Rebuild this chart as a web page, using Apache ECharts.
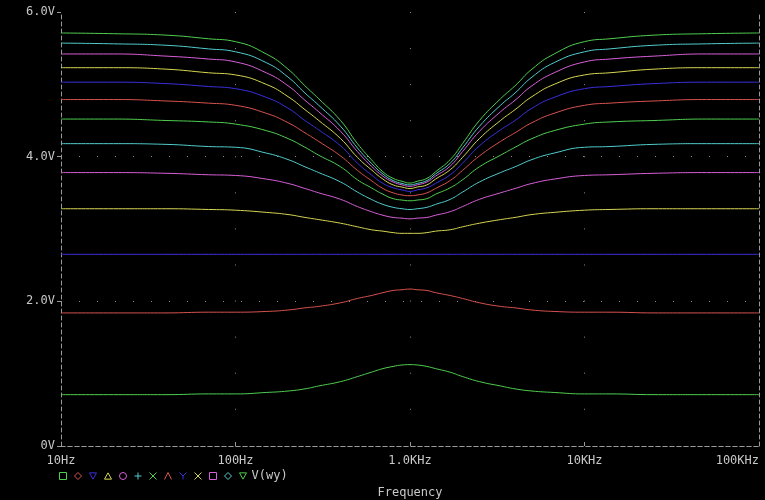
<!DOCTYPE html>
<html>
<head>
<meta charset="utf-8">
<script src="https://cdn.jsdelivr.net/npm/echarts@6/dist/echarts.min.js"></script>
<style>
  html, body { margin: 0; padding: 0; background: #000; }
  #main { width: 765px; height: 500px; }
</style>
</head>
<body>
<div id="main"></div>
<script>
// frequency points (Hz) shared by every trace
const freqs = [10, 20, 40, 70, 100, 150, 200, 250, 300, 400, 500, 600, 700, 800, 900, 1000,
  1100, 1250, 1400, 1700, 2000, 2500, 3300, 4000, 5000, 6700, 10000, 14000, 25000, 50000, 100000];

// V(wy) for each step of the sweep, bottom trace first
const wy1 = [0.71, 0.71, 0.71, 0.72, 0.72, 0.74, 0.76, 0.79, 0.83, 0.89, 0.96, 1.02, 1.07, 1.10, 1.12, 1.125,
  1.12, 1.10, 1.07, 1.02, 0.96, 0.89, 0.83, 0.79, 0.76, 0.74, 0.72, 0.72, 0.71, 0.71, 0.71];
const wy2 = [1.84, 1.84, 1.84, 1.85, 1.85, 1.86, 1.88, 1.91, 1.93, 1.98, 2.04, 2.08, 2.12, 2.15, 2.16, 2.17,
  2.16, 2.15, 2.12, 2.08, 2.04, 1.98, 1.93, 1.91, 1.88, 1.86, 1.85, 1.85, 1.84, 1.84, 1.84];
const wy3 = [2.65, 2.65, 2.65, 2.65, 2.65, 2.65, 2.65, 2.65, 2.65, 2.65, 2.65, 2.65, 2.65, 2.65, 2.65, 2.65,
  2.65, 2.65, 2.65, 2.65, 2.65, 2.65, 2.65, 2.65, 2.65, 2.65, 2.65, 2.65, 2.65, 2.65, 2.65];
const wy4 = [3.28, 3.28, 3.28, 3.27, 3.26, 3.23, 3.20, 3.16, 3.13, 3.08, 3.03, 2.99, 2.97, 2.95, 2.94, 2.94,
  2.94, 2.95, 2.97, 2.99, 3.03, 3.08, 3.13, 3.16, 3.20, 3.23, 3.26, 3.27, 3.28, 3.28, 3.28];
const wy5 = [3.78, 3.78, 3.77, 3.75, 3.74, 3.69, 3.63, 3.56, 3.50, 3.41, 3.31, 3.24, 3.19, 3.16, 3.15, 3.14,
  3.15, 3.16, 3.19, 3.24, 3.31, 3.41, 3.50, 3.56, 3.63, 3.69, 3.74, 3.75, 3.77, 3.78, 3.78];
const wy6 = [4.18, 4.18, 4.17, 4.14, 4.13, 4.05, 3.96, 3.86, 3.78, 3.65, 3.51, 3.41, 3.34, 3.30, 3.28, 3.27,
  3.28, 3.30, 3.34, 3.41, 3.51, 3.65, 3.78, 3.86, 3.96, 4.05, 4.13, 4.14, 4.17, 4.18, 4.18];
const wy7 = [4.52, 4.52, 4.50, 4.48, 4.45, 4.36, 4.25, 4.13, 4.02, 3.86, 3.68, 3.57, 3.48, 3.42, 3.40, 3.39,
  3.40, 3.42, 3.48, 3.57, 3.68, 3.86, 4.02, 4.13, 4.25, 4.36, 4.45, 4.48, 4.50, 4.52, 4.52];
const wy8 = [4.79, 4.79, 4.77, 4.74, 4.71, 4.60, 4.47, 4.33, 4.21, 4.01, 3.81, 3.67, 3.56, 3.50, 3.47, 3.46,
  3.47, 3.50, 3.56, 3.67, 3.81, 4.01, 4.21, 4.33, 4.47, 4.60, 4.71, 4.74, 4.77, 4.79, 4.79];
const wy9 = [5.03, 5.03, 5.01, 4.97, 4.94, 4.82, 4.67, 4.50, 4.37, 4.15, 3.91, 3.75, 3.63, 3.57, 3.54, 3.52,
  3.54, 3.57, 3.63, 3.75, 3.91, 4.15, 4.37, 4.50, 4.67, 4.82, 4.94, 4.97, 5.01, 5.03, 5.03];
const wy10 = [5.23, 5.23, 5.21, 5.16, 5.13, 5.00, 4.83, 4.65, 4.50, 4.25, 3.99, 3.82, 3.69, 3.61, 3.58, 3.56,
  3.58, 3.61, 3.69, 3.82, 3.99, 4.25, 4.50, 4.65, 4.83, 5.00, 5.13, 5.16, 5.21, 5.23, 5.23];
const wy11 = [5.42, 5.42, 5.39, 5.35, 5.31, 5.16, 4.98, 4.78, 4.62, 4.35, 4.07, 3.87, 3.73, 3.65, 3.61, 3.59,
  3.61, 3.65, 3.73, 3.87, 4.07, 4.35, 4.62, 4.78, 4.98, 5.16, 5.31, 5.35, 5.39, 5.42, 5.42];
const wy12 = [5.57, 5.56, 5.54, 5.49, 5.45, 5.30, 5.10, 4.88, 4.71, 4.42, 4.12, 3.91, 3.76, 3.67, 3.63, 3.61,
  3.63, 3.67, 3.76, 3.91, 4.12, 4.42, 4.71, 4.88, 5.10, 5.30, 5.45, 5.49, 5.54, 5.56, 5.57];
const wy13 = [5.71, 5.70, 5.68, 5.63, 5.59, 5.42, 5.21, 4.98, 4.80, 4.50, 4.18, 3.96, 3.79, 3.70, 3.66, 3.635,
  3.66, 3.70, 3.79, 3.96, 4.18, 4.50, 4.80, 4.98, 5.21, 5.42, 5.59, 5.63, 5.68, 5.70, 5.71];

// axis tick labels
const freqTicks = [10, 100, 1000, 10000, 100000];
const freqLabels = ['10Hz', '100Hz', '1.0KHz', '10KHz', '100KHz'];
const voltTicks = [0, 2, 4, 6];
const voltLabels = ['0V', '2.0V', '4.0V', '6.0V'];

const traces = [wy1, wy2, wy3, wy4, wy5, wy6, wy7, wy8, wy9, wy10, wy11, wy12, wy13];

// pspice trace colours cycle
const GREEN = '#4fcf4f', RED = '#d8524f', BLUE = '#3b2fdc', YELLOW = '#d6d654',
  MAGENTA = '#d95fd9', CYAN = '#52cccc';
const colors = [GREEN, RED, BLUE, YELLOW, MAGENTA, CYAN, GREEN, RED, BLUE, YELLOW, MAGENTA, CYAN, GREEN];

// legend markers (square, diamond, down tri, up tri, circle, plus, x, lambda, y, X, square, diamond, down tri)
const icons = [
  'path://M0,0H10V10H0Z',
  'path://M5,0L10,5L5,10L0,5Z',
  'path://M0,1H10L5,10Z',
  'path://M5,0L10,9H0Z',
  'path://M5,0A5,5,0,1,1,4.99,0Z',
  'path://M5,0V10M0,5H10',
  'path://M0,0L10,10M10,0L0,10',
  'path://M0,10L5,0L10,10',
  'path://M0,0L5,5L10,0M5,5V10',
  'path://M0,0L10,10M10,0L0,10',
  'path://M0,0H10V10H0Z',
  'path://M5,0L10,5L5,10L0,5Z',
  'path://M0,1H10L5,10Z'
];

const FONT = 'DejaVu Sans Mono';
const GREY = '#c8c8c8';
const FRAME = '#9a9a9a';

const names = traces.map((t, i) => 'V(wy)#' + (i + 1));

const chart = echarts.init(document.getElementById('main'));

const series = traces.map((vals, i) => ({
  name: names[i],
  type: 'line',
  xAxisIndex: 0,
  yAxisIndex: 0,
  data: freqs.map((f, k) => [f, vals[k]]),
  showSymbol: false,
  smooth: 0.5,
  lineStyle: { color: colors[i], width: 1 },
  itemStyle: { color: colors[i] },
  emphasis: { disabled: true }
}));

const option = {
  backgroundColor: '#000',
  animation: false,
  grid: { left: 61, right: 6, top: 12, bottom: 54, outerBoundsMode: 'none', containLabel: false },
  legend: {
    left: 59,
    top: 470,
    padding: 0,
    itemWidth: 7,
    itemHeight: 7,
    itemGap: 7,
    selectedMode: false,
    data: names.map((n, i) => ({
      name: n,
      icon: icons[i],
      itemStyle: { color: 'transparent', borderColor: colors[i], borderWidth: 1 }
    })),
    formatter: n => (n === names[names.length - 1] ? 'V(wy)' : ''),
    textStyle: { color: GREY, fontFamily: FONT, fontSize: 12 }
  },
  xAxis: [{
    type: 'log',
    logBase: 10,
    min: 10,
    max: 100000,
    name: 'Frequency',
    nameLocation: 'middle',
    nameGap: 41,
    nameTextStyle: { color: GREY, fontFamily: FONT, fontSize: 12 },
    axisLine: { lineStyle: { color: FRAME, type: [4, 3], width: 1 } },
    axisTick: { inside: true, length: 4, lineStyle: { color: FRAME } },
    axisLabel: {
      color: GREY, fontFamily: FONT, fontSize: 12, margin: 9,
      alignMaxLabel: 'right',
      formatter: v => {
        const k = freqTicks.findIndex(t => Math.abs(t - v) / t < 1e-6);
        return k >= 0 ? freqLabels[k] : '';
      }
    },
    splitLine: {
      show: true, showMinLine: false, showMaxLine: false,
      lineStyle: { color: '#8a8a8a', type: [1, 35.07], width: 1 }
    }
  }, {
    type: 'log',
    logBase: 10,
    min: 10,
    max: 100000,
    position: 'top',
    axisLine: { lineStyle: { color: FRAME, type: [4, 3], width: 1 } },
    axisTick: { show: false },
    axisLabel: { show: false },
    splitLine: { show: false }
  }],
  yAxis: [{
    type: 'value',
    min: 0,
    max: 6,
    interval: 2,
    axisLine: { show: true, lineStyle: { color: FRAME, type: [4, 3], width: 1 } },
    axisTick: { show: true, length: 4, lineStyle: { color: FRAME } },
    axisLabel: {
      color: GREY, fontFamily: FONT, fontSize: 12, margin: 6,
      formatter: v => {
        const k = voltTicks.indexOf(Math.round(v));
        return k >= 0 ? voltLabels[k] : '';
      }
    },
    splitLine: {
      show: true, showMinLine: false, showMaxLine: false,
      lineStyle: { color: '#8a8a8a', type: [1, 17], width: 1 }
    }
  }, {
    type: 'value',
    min: 0,
    max: 6,
    interval: 2,
    position: 'right',
    axisLine: { show: true, lineStyle: { color: FRAME, type: [4, 3], width: 1 } },
    axisTick: { show: false },
    axisLabel: { show: false },
    splitLine: { show: false }
  }],
  series: series
};

chart.setOption(option);
</script>
</body>
</html>
